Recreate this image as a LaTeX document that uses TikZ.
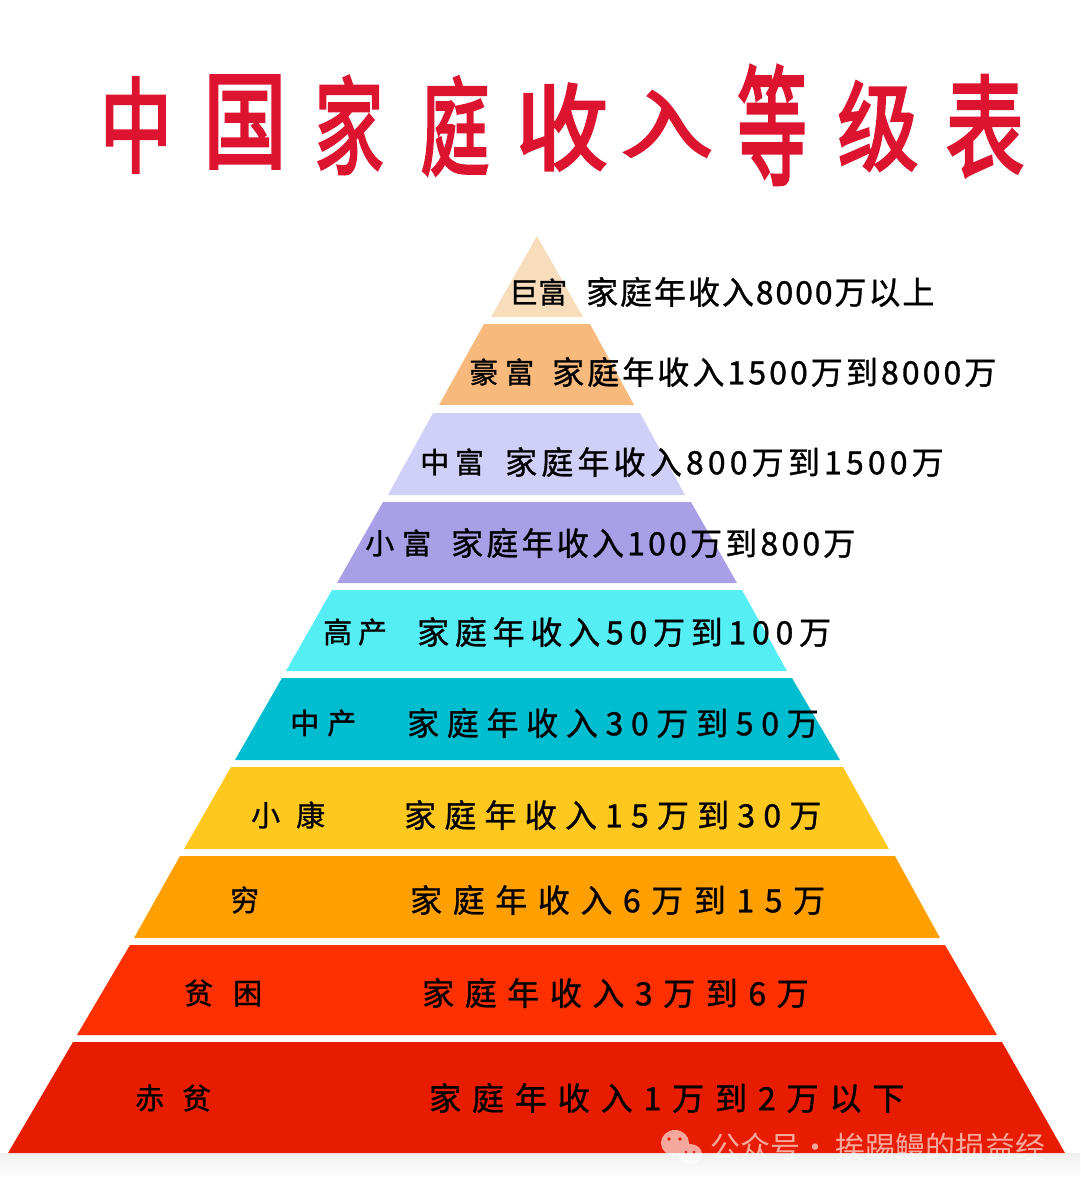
\documentclass[tikz,border=0pt]{standalone}
\usepackage{fontspec}
\newfontfamily\cjk[FakeBold=1]{Noto Sans CJK SC}
\newfontfamily\cjkplain{Noto Sans CJK SC}
\newfontfamily\cjktitle[FakeBold=3]{Noto Sans CJK SC}
\definecolor{bandA}{HTML}{F8DDBC}
\definecolor{bandB}{HTML}{F8B97C}
\definecolor{bandC}{HTML}{CFCFF7}
\definecolor{bandD}{HTML}{A99FE6}
\definecolor{bandE}{HTML}{55EEF5}
\definecolor{bandF}{HTML}{00BED0}
\definecolor{bandG}{HTML}{FFC81E}
\definecolor{bandH}{HTML}{FFA000}
\definecolor{bandI}{HTML}{FF3000}
\definecolor{bandJ}{HTML}{E81C00}
\definecolor{titlered}{HTML}{DC1430}
\tikzset{
	titlechar/.style={text=titlered,font=\cjktitle\fontsize{92}{92}\selectfont,inner sep=0pt},
	rowlabel/.style={anchor=west,inner sep=0pt,text=black,font=\cjk\fontsize{29}{29}\selectfont},
	rowincome/.style={anchor=west,inner sep=0pt,text=black,font=\cjk\fontsize{32}{32}\selectfont},
	markname/.style={anchor=west,inner sep=0pt,text=white,text opacity=0.62,font=\cjkplain\fontsize{30}{30}\selectfont},
}
\begin{document}
\begin{tikzpicture}[x=1pt,y=-1pt]
	\useasboundingbox (0,0) rectangle (1080,1192);
	\shade[top color=black!6,bottom color=white] (0,1153) rectangle (1080,1178);
	\foreach \c/\ya/\yb/\la/\ra/\lb/\rb in {bandA/236/317/537/537/491/583,bandB/324/405/484/590/439/634,bandC/413/495/433/640/388/685,bandD/502/583/383/691/337/737,bandE/590/671/332/742/286/787,bandF/678/760/282/792/235/840,bandG/767/849/231/843/184/889,bandH/856/938/180/895/134/940,bandI/945/1035/130/945/77/997,bandJ/1042/1153/73/1002/8/1065}
	\fill[\c] (\la,\ya)--(\ra,\ya)--(\rb,\yb)--(\lb,\yb)--cycle;
	\foreach \ch/\x/\y/\sx/\sy [count=\i] in {中/136/125/.78/1.12,国/245/122/.9/1.15,家/349/125/.75/1.15,庭/455/126/.75/1.15,收/562/127/1/1.02,入/667/124/1/.8,等/772/125/.75/1.4,级/878/126/.88/1.05,表/985/126/.85/1.2}
	\node[titlechar] (title\i) at (\x,\y) {\scalebox{\sx}[\sy]{\ch}};
	\foreach \y/\lab/\lx/\lt/\inc/\ix/\it [count=\i] in {
		292/巨富/509/0/家庭年收入8000万以上/586/6,
		372/豪富/469/24/家庭年收入1500万到8000万/552/9.6,
		462/中富/420/20/家庭年收入800万到1500万/505/13,
		543/小富/365/28/家庭年收入100万到800万/451/10,
		632/高产/323/20/家庭年收入50万到100万/417/18,
		723/中产/290/28/家庭年收入30万到50万/407/24,
		815/小康/251/55/家庭年收入15万到30万/404/25.6,
		900/穷/230/0/家庭年收入6万到15万/410/33,
		993/贫困/184/69/家庭年收入3万到6万/422/33,
		1098/赤贫/135/62/家庭年收入1万到2万以下/429/34}
	{
		\node[rowlabel] (label\i) at (\lx,\y) {\addfontfeature{LetterSpace=\lt}\lab};
		\node[rowincome] (income\i) at (\ix,\y) {\addfontfeature{LetterSpace=\it}\inc};
	}
	\fill[white,opacity=0.62] (675,1143) ellipse[x radius=14,y radius=13] (690,1154) ellipse[x radius=12,y radius=10];
	\fill[bandJ] (669,1139) circle[radius=1.8] (680,1139) circle[radius=1.8] (686,1152) circle[radius=1.4] (694,1152) circle[radius=1.4];
	\node[markname] (mark) at (710,1147) {公众号·\hspace{5pt}挨踢鳗的损益经};
\end{tikzpicture}
\end{document}
